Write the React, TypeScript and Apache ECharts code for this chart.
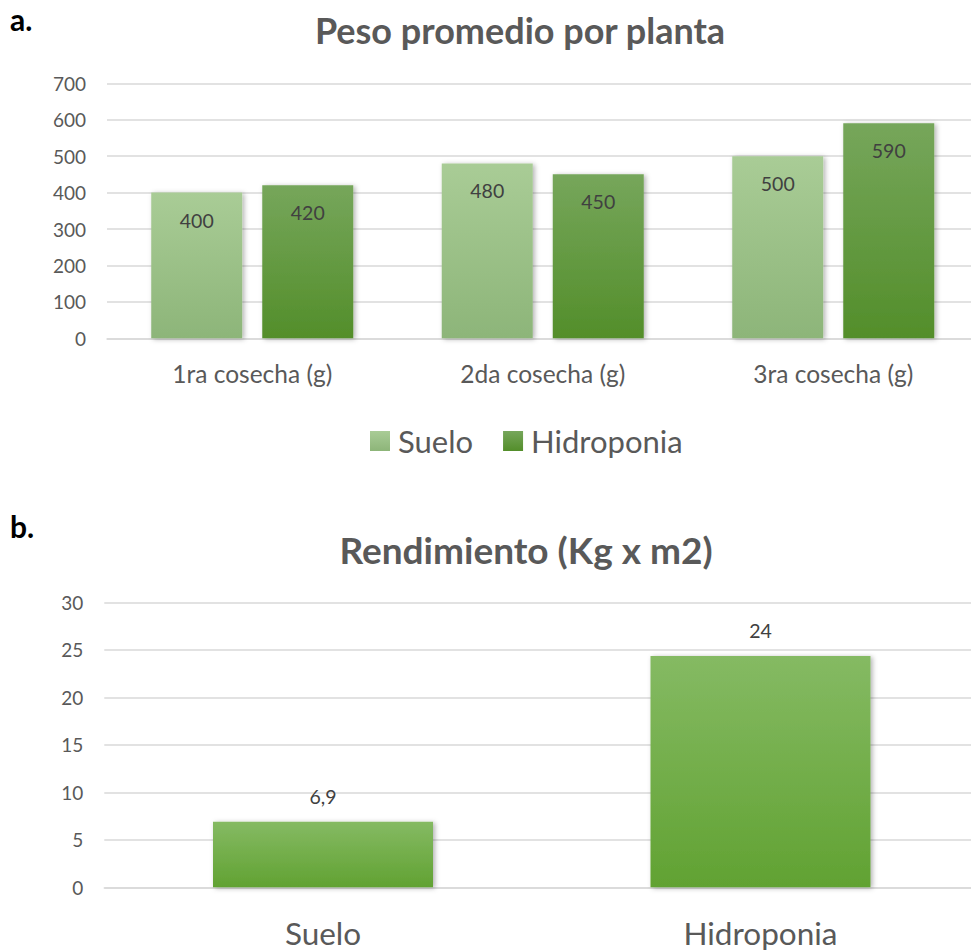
import React, { useEffect, useRef } from "react";
import * as echarts from "echarts";

const categoriasCosecha = ["1ra cosecha (g)", "2da cosecha (g)", "3ra cosecha (g)"];
const pesoSuelo = [400, 480, 500];
const pesoHidroponia = [420, 450, 590];
const ticksPeso = { min: 0, max: 700, interval: 100 };

const categoriasRendimiento = ["Suelo", "Hidroponia"];
const rendimiento = [6.9, 24.35];
const rendimientoEtiquetas = ["6,9", "24"];
const ticksRendimiento = { min: 0, max: 30, interval: 5 };

const FONT = "Lato, 'Open Sans', sans-serif";
const GRAY = "#595959";
const GRID = "#d9d9d9";

const grad = (a: string, b: string) =>
  new echarts.graphic.LinearGradient(0, 0, 0, 1, [
    { offset: 0, color: a },
    { offset: 1, color: b },
  ]);

const shadow = {
  shadowBlur: 5,
  shadowColor: "rgba(0,0,0,0.3)",
  shadowOffsetX: 2,
  shadowOffsetY: 1,
};

export default function App() {
  const ref = useRef<HTMLDivElement>(null);
  useEffect(() => {
    if (!ref.current) return;
    const chart = echarts.init(ref.current, undefined, { renderer: "svg" });
    const yAxisCommon = {
      type: "value" as const,
      axisLine: { show: false },
      axisTick: { show: false },
      splitLine: { lineStyle: { color: GRID, width: 1.5 } },
      axisLabel: { color: GRAY, fontFamily: FONT, fontSize: 19, margin: 21 },
    };
    const xAxisCommon = {
      type: "category" as const,
      axisTick: { show: false },
      axisLine: { lineStyle: { color: GRID, width: 1.5 } },
    };
    chart.setOption({
      animation: false,
      backgroundColor: "#ffffff",
      graphic: [
        {
          type: "text",
          x: 10,
          y: 18.5,
          style: { text: "a.", font: `bold 30px ${FONT}`, fill: "#000", textVerticalAlign: "middle" },
        },
        {
          type: "text",
          x: 10,
          y: 525.5,
          style: { text: "b.", font: `bold 30px ${FONT}`, fill: "#000", textVerticalAlign: "middle" },
        },
        {
          type: "text",
          x: 520,
          y: 29.5,
          style: {
            text: "Peso promedio por planta",
            font: `bold 36px ${FONT}`,
            fill: GRAY,
            textAlign: "center",
            textVerticalAlign: "middle",
          },
        },
        {
          type: "text",
          x: 526,
          y: 549,
          style: {
            text: "Rendimiento (Kg x m2)",
            font: `bold 37px ${FONT}`,
            fill: GRAY,
            textAlign: "center",
            textVerticalAlign: "middle",
          },
        },
      ],
      legend: {
        data: ["Suelo", "Hidroponia"],
        left: 370,
        top: 425.5,
        padding: 0,
        itemWidth: 20,
        itemHeight: 20,
        itemGap: 30,
        icon: "rect",
        textStyle: { color: GRAY, fontFamily: FONT, fontSize: 31, padding: [0, 0, 0, 3] },
      },
      grid: [
        { left: 107, top: 83.3, width: 871.5, height: 255 },
        { left: 104.25, top: 602.3, width: 875, height: 285 },
      ],
      xAxis: [
        {
          ...xAxisCommon,
          gridIndex: 0,
          data: categoriasCosecha,
          axisLabel: { color: GRAY, fontFamily: FONT, fontSize: 24.5, margin: 23 },
        },
        {
          ...xAxisCommon,
          gridIndex: 1,
          data: categoriasRendimiento,
          axisLabel: { color: GRAY, fontFamily: FONT, fontSize: 31.5, margin: 30 },
        },
      ],
      yAxis: [
        { ...yAxisCommon, gridIndex: 0, ...ticksPeso },
        { ...yAxisCommon, gridIndex: 1, ...ticksRendimiento },
      ],
      series: [
        {
          name: "Suelo",
          type: "bar",
          xAxisIndex: 0,
          yAxisIndex: 0,
          data: pesoSuelo,
          barWidth: 91,
          barGap: "22%",
          itemStyle: { color: grad("#a9cc96", "#8db579"), ...shadow },
          label: {
            show: true,
            position: "insideTop",
            distance: 17.5,
            color: "#404040",
            fontFamily: FONT,
            fontSize: 19.5,
          },
        },
        {
          name: "Hidroponia",
          type: "bar",
          xAxisIndex: 0,
          yAxisIndex: 0,
          data: pesoHidroponia,
          barWidth: 91,
          barGap: "22%",
          itemStyle: { color: grad("#76a65b", "#538e2a"), ...shadow },
          label: {
            show: true,
            position: "insideTop",
            distance: 17.5,
            color: "#404040",
            fontFamily: FONT,
            fontSize: 19.5,
          },
        },
        {
          name: "Rendimiento",
          type: "bar",
          xAxisIndex: 1,
          yAxisIndex: 1,
          data: rendimiento,
          barWidth: 220,
          itemStyle: { color: grad("#85ba63", "#61a232"), ...shadow },
          label: {
            show: true,
            position: "top",
            distance: 15,
            color: "#404040",
            fontFamily: FONT,
            fontSize: 19.5,
            formatter: (p: any) => rendimientoEtiquetas[p.dataIndex],
          },
        },
      ],
    });
    return () => chart.dispose();
  }, []);
  return (
    <div
      style={{
        position: "fixed",
        left: 0,
        top: 0,
        width: 971,
        height: 951,
        overflow: "hidden",
        background: "#fff",
      }}
    >
      <div ref={ref} style={{ width: 1000, height: 951 }} />
    </div>
  );
}
